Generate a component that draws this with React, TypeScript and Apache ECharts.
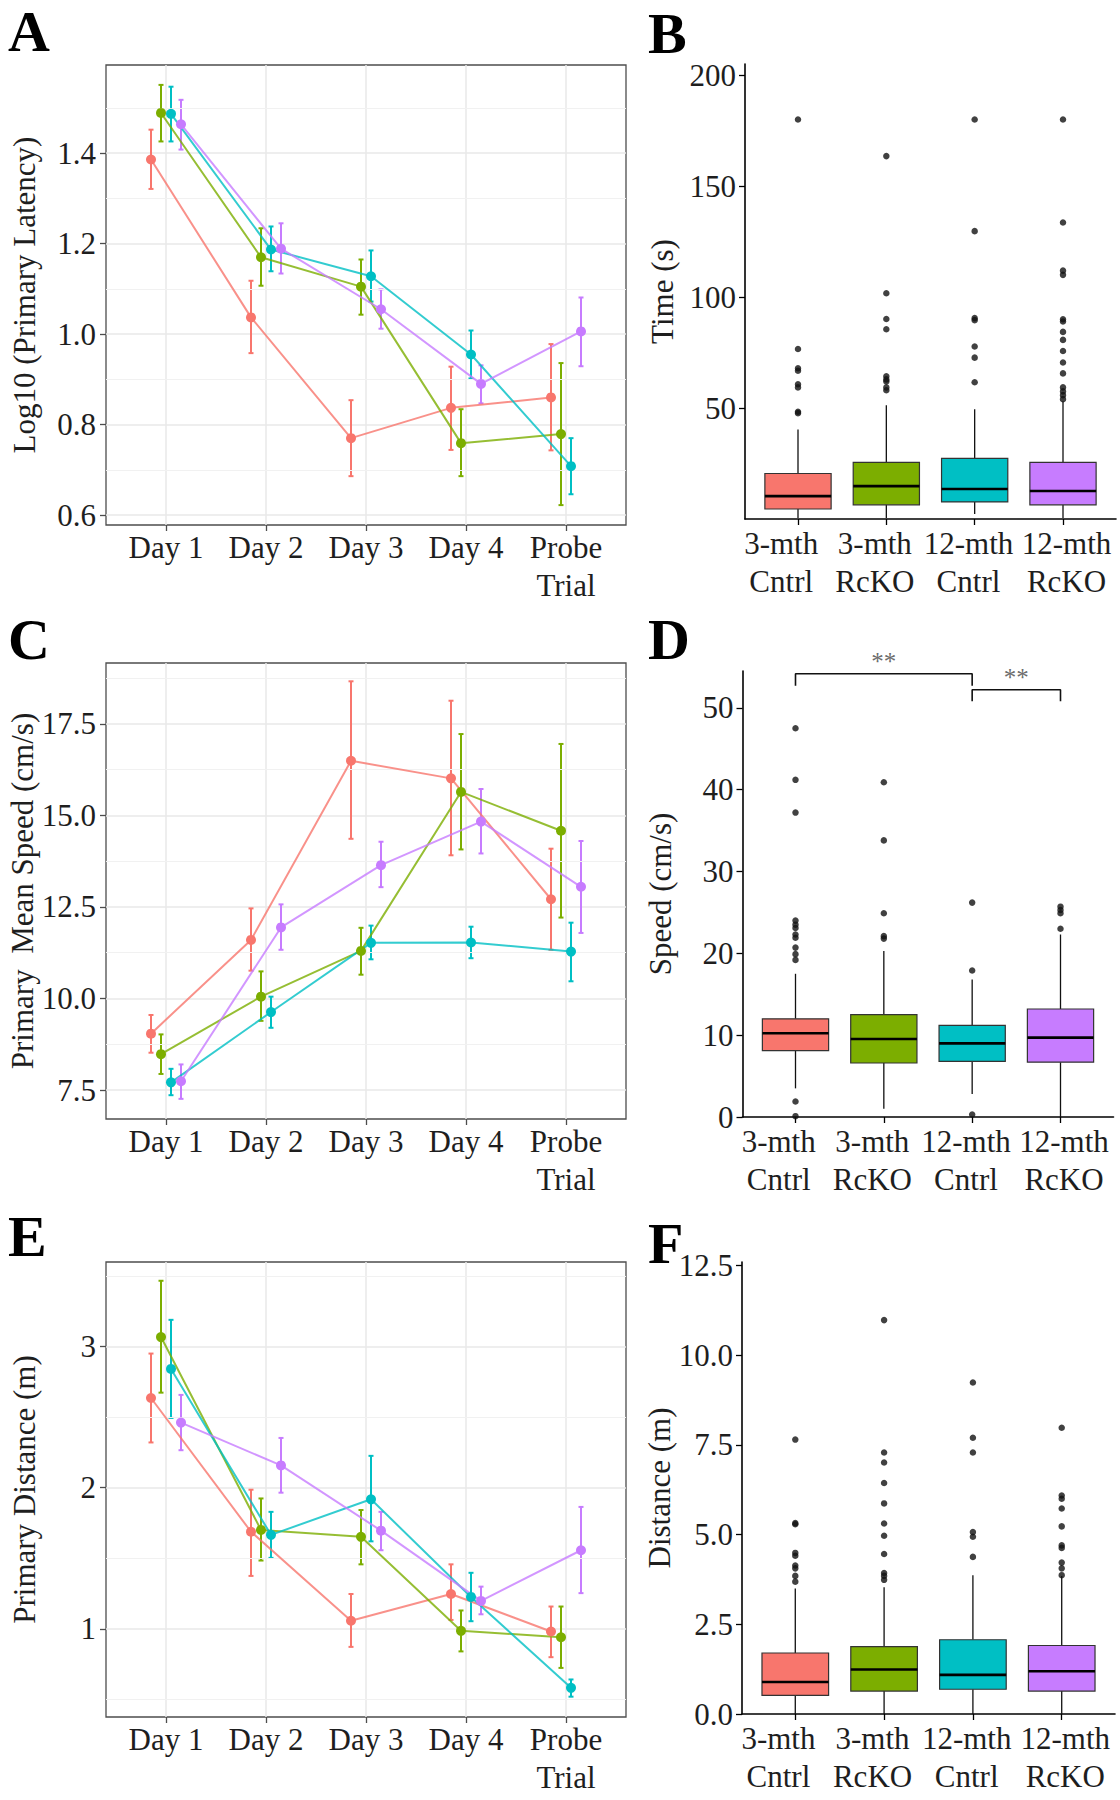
import React, { useEffect, useRef } from 'react';
import * as echarts from 'echarts';

const FONT = "'Liberation Serif', 'Times New Roman', serif";
const TEXT = '#1e1e1e';
const COLORS = ['#F8766D', '#7CAE00', '#00BFC4', '#C77CFF'];
const DODGE = [-0.15, -0.05, 0.05, 0.15];
// where the box-panel category labels sit on the x scale (they are spread a little wider than the ticks)
const BOX_LABEL_POS = [0.81, 1.87, 2.93, 4.04];

const dayLabels = ['Day 1', 'Day 2', 'Day 3', 'Day 4', 'Probe\nTrial'];
const boxLabels = ['3-mth\nCntrl', '3-mth\nRcKO', '12-mth\nCntrl', '12-mth\nRcKO'];

// Panel A: Log10 (Primary Latency), groups: 3-mth Cntrl, 3-mth RcKO, 12-mth Cntrl, 12-mth RcKO
const latencyMean = [
  [1.386, 1.037, 0.770, 0.837, 0.860],
  [1.489, 1.170, 1.105, 0.759, 0.779],
  [1.487, 1.187, 1.128, 0.955, 0.708],
  [1.464, 1.189, 1.055, 0.890, 1.006],
];
const latencyLow = [
  [1.321, 0.958, 0.686, 0.744, 0.743],
  [1.426, 1.107, 1.043, 0.686, 0.622],
  [1.426, 1.139, 1.072, 0.902, 0.646],
  [1.408, 1.134, 1.012, 0.847, 0.929],
];
const latencyHigh = [
  [1.452, 1.118, 0.854, 0.928, 0.978],
  [1.551, 1.234, 1.165, 0.834, 0.936],
  [1.547, 1.238, 1.185, 1.008, 0.770],
  [1.518, 1.245, 1.099, 0.931, 1.081],
];
const latencyTicks = [0.6, 0.8, 1.0, 1.2, 1.4];
const latencyMinor = [0.7, 0.9, 1.1, 1.3, 1.5];

// Panel C: Primary Mean Speed (cm/s)
const speedMean = [
  [9.04, 11.60, 16.49, 16.01, 12.71],
  [8.48, 10.05, 11.30, 15.64, 14.58],
  [7.71, 9.63, 11.52, 11.53, 11.28],
  [7.74, 11.94, 13.64, 14.83, 13.05],
];
const speedLow = [
  [8.52, 10.76, 14.36, 13.91, 11.33],
  [7.94, 9.39, 10.65, 14.07, 12.21],
  [7.36, 9.20, 11.07, 11.10, 10.47],
  [7.26, 11.33, 13.04, 13.96, 11.79],
];
const speedHigh = [
  [9.55, 12.46, 18.66, 18.13, 14.09],
  [9.02, 10.74, 11.93, 17.22, 16.95],
  [8.08, 10.05, 11.99, 11.96, 12.07],
  [8.20, 12.57, 14.28, 15.72, 14.30],
];
const speedTicks = [7.5, 10, 12.5, 15, 17.5];
const speedMinor = [8.75, 11.25, 13.75, 16.25, 18.75];

// Panel E: Primary Distance (m)
const distMean = [
  [2.636, 1.688, 1.057, 1.247, 0.981],
  [3.068, 1.701, 1.652, 0.986, 0.940],
  [2.842, 1.666, 1.918, 1.226, 0.582],
  [2.462, 2.158, 1.696, 1.198, 1.557],
];
const distLow = [
  [2.321, 1.375, 0.872, 1.063, 0.799],
  [2.674, 1.484, 1.457, 0.840, 0.723],
  [2.495, 1.503, 1.620, 1.054, 0.519],
  [2.266, 1.965, 1.557, 1.103, 1.253],
];
const distHigh = [
  [2.951, 1.986, 1.247, 1.457, 1.158],
  [3.467, 1.924, 1.842, 1.130, 1.158],
  [3.190, 1.829, 2.226, 1.397, 0.641],
  [2.658, 2.353, 1.829, 1.299, 1.864],
];
const distTicks = [1, 2, 3];
const distMinor = [0.5, 1.5, 2.5, 3.5];

// Panel B: Time (s) boxplots [min, Q1, median, Q3, max]
const timeBox = [
  [0.5, 4.5, 10.3, 20.5, 40.3],
  [0.5, 6.4, 14.8, 25.5, 51.3],
  [2.3, 7.7, 13.5, 27.3, 49.5],
  [0.5, 6.4, 12.6, 25.5, 53.1],
];
const timeOutliers = [
  [47.7, 48.3, 59.3, 60.7, 66.8, 67.9, 76.6, 180],
  [58, 59.3, 62, 62.9, 64.3, 85.5, 90.1, 101.7, 163.5],
  [61.6, 72.7, 77.7, 89.6, 90.5, 129.7, 180],
  [54, 55.8, 57.5, 59.3, 65.6, 70.5, 75.7, 80.7, 84.3, 89, 90, 110, 111.9, 133.6, 180],
];
const timeTicks = [50, 100, 150, 200];

// Panel D: Speed (cm/s) boxplots
const speedBox = [
  [3.5, 8.1, 10.24, 12.0, 17.5],
  [1.0, 6.6, 9.54, 12.5, 20.3],
  [2.8, 6.8, 9.0, 11.2, 16.8],
  [0.0, 6.7, 9.7, 13.2, 22.3],
];
const speedOutliers = [
  [47.5, 41.2, 37.2, 24.0, 23.5, 23.1, 22.3, 21.9, 20.7, 19.9, 19.2, 1.9, 0.1],
  [40.9, 33.8, 24.9, 22.1, 21.8],
  [26.2, 17.9, 0.3],
  [25.7, 25.3, 24.9, 23.0],
];
const speedBoxTicks = [0, 10, 20, 30, 40, 50];
const sigPairs = [[1, 3], [3, 4]];
const sigTop = [54.16, 52.2];
const sigFoot = [52.7, 50.8];
const sigText = ['**', '**'];

// Panel F: Distance (m) boxplots
const distBox = [
  [0.0, 0.52, 0.89, 1.70, 3.50],
  [0.0, 0.64, 1.24, 1.88, 3.53],
  [0.0, 0.69, 1.09, 2.07, 3.87],
  [0.0, 0.64, 1.19, 1.91, 3.85],
];
const distOutliers = [
  [7.65, 5.32, 5.29, 4.49, 4.41, 4.14, 4.06, 3.85, 3.69],
  [10.98, 7.29, 7.01, 6.44, 5.87, 5.31, 4.97, 4.46, 3.93, 3.85, 3.74],
  [9.24, 7.70, 7.29, 5.07, 4.94, 4.38],
  [7.98, 6.09, 6.0, 5.73, 5.23, 4.70, 4.63, 4.22, 4.06, 3.87],
];
const distBoxTicks = [0, 2.5, 5, 7.5, 10, 12.5];

const LINE_GRIDS = [
  { left: 106, top: 65, width: 520, height: 460 },
  { left: 106, top: 663, width: 520, height: 456 },
  { left: 106, top: 1262, width: 520, height: 455 },
];
const BOX_GRIDS = [
  { left: 745, top: 64, width: 371, height: 455 },
  { left: 742.5, top: 671, width: 371, height: 446 },
  { left: 742, top: 1262, width: 373, height: 452 },
];

const labelStyle = { fontFamily: FONT, fontSize: 31, color: TEXT };

function buildOption() {
  const grid: any[] = [];
  const xAxis: any[] = [];
  const yAxis: any[] = [];
  const series: any[] = [];

  const linePanel = (
    gi: number, mean: number[][], lo: number[][], hi: number[][],
    yMin: number, yMax: number, ticks: number[], minor: number[],
    fmt: (v: number) => string, title: string,
  ) => {
    const idx = grid.length;
    grid.push({ ...LINE_GRIDS[gi], show: true, borderColor: '#4d4d4d', borderWidth: 1.3, backgroundColor: '#ffffff', containLabel: false });
    const xVals = dayLabels.map((_, i) => i + 1);
    xAxis.push({
      gridIndex: idx, type: 'value', min: 0.4, max: 5.6,
      axisLine: { show: false, onZero: false },
      axisTick: { show: true, customValues: xVals, length: 6, lineStyle: { color: '#4d4d4d', width: 1.3 } },
      axisLabel: { ...labelStyle, customValues: xVals, margin: 3, lineHeight: 38, showMinLabel: true, showMaxLabel: true, formatter: (v: number) => dayLabels[Math.round(v) - 1] },
      splitLine: { show: true, lineStyle: { color: '#e8e8e8', width: 1.5 } },
    });
    yAxis.push({
      gridIndex: idx, type: 'value', min: yMin, max: yMax,
      axisLine: { show: false, onZero: false },
      axisTick: { show: true, customValues: ticks, length: 6, lineStyle: { color: '#4d4d4d', width: 1.3 } },
      axisLabel: { ...labelStyle, customValues: ticks, margin: 10, showMinLabel: true, showMaxLabel: true, formatter: fmt },
      splitLine: { show: true, lineStyle: { color: '#e8e8e8', width: 1.5 } },
      name: title, nameLocation: 'middle', nameGap: 66, nameRotate: 90,
      nameTextStyle: { fontFamily: FONT, fontSize: 31, color: TEXT },
    });
    series.push({
      type: 'line', xAxisIndex: idx, yAxisIndex: idx, data: [], silent: true, z: 1,
      markLine: {
        silent: true, symbol: 'none', label: { show: false },
        lineStyle: { color: '#f1f1f1', width: 1.2, type: 'solid' },
        data: minor.map((v) => ({ yAxis: v })),
      },
    });
    mean.forEach((row, g) => {
      series.push({
        type: 'custom', xAxisIndex: idx, yAxisIndex: idx, z: 4,
        data: row.map((_, d) => [d + 1 + DODGE[g], lo[g][d], hi[g][d]]),
        encode: { x: 0, y: [1, 2] },
        renderItem: (params: any, api: any) => {
          const x = api.value(0);
          const p1 = api.coord([x, api.value(1)]);
          const p2 = api.coord([x, api.value(2)]);
          const cap = 2.5;
          const st = { stroke: COLORS[g], lineWidth: 2 };
          return {
            type: 'group',
            children: [
              { type: 'line', shape: { x1: p1[0], y1: p1[1], x2: p2[0], y2: p2[1] }, style: st },
              { type: 'line', shape: { x1: p1[0] - cap, y1: p1[1], x2: p1[0] + cap, y2: p1[1] }, style: st },
              { type: 'line', shape: { x1: p2[0] - cap, y1: p2[1], x2: p2[0] + cap, y2: p2[1] }, style: st },
            ],
          };
        },
      });
      series.push({
        type: 'line', xAxisIndex: idx, yAxisIndex: idx, z: 5,
        data: row.map((v, d) => [d + 1 + DODGE[g], v]),
        symbol: 'circle', symbolSize: 10, showSymbol: true,
        itemStyle: { color: COLORS[g] },
        lineStyle: { color: COLORS[g], width: 2, opacity: 0.8 },
      });
    });
  };

  const boxPanel = (
    gi: number, box: number[][], outliers: number[][],
    yMin: number, yMax: number, ticks: number[], fmt: (v: number) => string, title: string,
  ) => {
    const idx = grid.length;
    grid.push({ ...BOX_GRIDS[gi], show: false, containLabel: false });
    const xVals = boxLabels.map((_, i) => i + 1);
    const labelFor = (v: number) => {
      let best = 0;
      BOX_LABEL_POS.forEach((p, i) => { if (Math.abs(p - v) < Math.abs(BOX_LABEL_POS[best] - v)) best = i; });
      return boxLabels[best];
    };
    xAxis.push({
      gridIndex: idx, type: 'value', min: 0.4, max: 4.6,
      axisLine: { show: true, onZero: false, lineStyle: { color: '#000', width: 1.6 } },
      axisTick: { show: true, customValues: xVals, length: 6, lineStyle: { color: '#000', width: 1.3 } },
      axisLabel: { ...labelStyle, customValues: BOX_LABEL_POS, margin: 5, lineHeight: 38, showMinLabel: true, showMaxLabel: true, hideOverlap: false, formatter: labelFor },
      splitLine: { show: false },
    });
    yAxis.push({
      gridIndex: idx, type: 'value', min: yMin, max: yMax,
      axisLine: { show: true, onZero: false, lineStyle: { color: '#000', width: 1.6 } },
      axisTick: { show: true, customValues: ticks, length: 6, lineStyle: { color: '#000', width: 1.3 } },
      axisLabel: { ...labelStyle, customValues: ticks, margin: 9, showMinLabel: true, showMaxLabel: true, formatter: fmt },
      splitLine: { show: false },
      name: title, nameLocation: 'middle', nameGap: 67, nameRotate: 90,
      nameTextStyle: { fontFamily: FONT, fontSize: 31, color: TEXT },
    });
    series.push({
      type: 'custom', xAxisIndex: idx, yAxisIndex: idx, z: 3,
      data: box.map((b, i) => [i + 1, ...b]),
      encode: { x: 0, y: [1, 2, 3, 4, 5] },
      renderItem: (params: any, api: any) => {
        const x = api.value(0);
        const w = api.size([1, 0])[0] * 0.75;
        const pMin = api.coord([x, api.value(1)]);
        const pQ1 = api.coord([x, api.value(2)]);
        const pMed = api.coord([x, api.value(3)]);
        const pQ3 = api.coord([x, api.value(4)]);
        const pMax = api.coord([x, api.value(5)]);
        const cx = pMed[0];
        const wk = { stroke: '#111', lineWidth: 1.3 };
        return {
          type: 'group',
          children: [
            { type: 'line', shape: { x1: cx, y1: pQ3[1], x2: cx, y2: pMax[1] }, style: wk },
            { type: 'line', shape: { x1: cx, y1: pQ1[1], x2: cx, y2: pMin[1] }, style: wk },
            { type: 'rect', shape: { x: cx - w / 2, y: pQ3[1], width: w, height: pQ1[1] - pQ3[1] }, style: { fill: COLORS[params.dataIndex], stroke: '#333', lineWidth: 1.2 } },
            { type: 'line', shape: { x1: cx - w / 2, y1: pMed[1], x2: cx + w / 2, y2: pMed[1] }, style: { stroke: '#000', lineWidth: 2.6 } },
          ],
        };
      },
    });
    const pts: number[][] = [];
    outliers.forEach((arr, i) => arr.forEach((v) => pts.push([i + 1, v])));
    series.push({
      type: 'scatter', xAxisIndex: idx, yAxisIndex: idx, z: 4, data: pts,
      symbol: 'circle', symbolSize: 6.5, itemStyle: { color: '#111' }, clip: false,
    });
    return idx;
  };

  linePanel(0, latencyMean, latencyLow, latencyHigh, 0.578, 1.595, latencyTicks, latencyMinor, (v) => v.toFixed(1), 'Log10 (Primary Latency)');
  boxPanel(0, timeBox, timeOutliers, 0, 205, timeTicks, (v) => String(v), 'Time (s)');
  linePanel(1, speedMean, speedLow, speedHigh, 6.71, 19.16, speedTicks, speedMinor, (v) => v.toFixed(1), 'Primary  Mean Speed (cm/s)');
  const dIdx = boxPanel(1, speedBox, speedOutliers, 0, 54.5, speedBoxTicks, (v) => String(v), 'Speed (cm/s)');
  linePanel(2, distMean, distLow, distHigh, 0.375, 3.6, distTicks, distMinor, (v) => String(v), 'Primary Distance (m)');
  boxPanel(2, distBox, distOutliers, 0, 12.6, distBoxTicks, (v) => v.toFixed(1), 'Distance (m)');

  sigPairs.forEach(([a, b], k) => {
    series.push({
      type: 'line', xAxisIndex: dIdx, yAxisIndex: dIdx, z: 6, clip: false, silent: true,
      symbol: 'none', lineStyle: { color: '#111', width: 1.6 },
      data: [[a, sigFoot[k]], [a, sigTop[k]], [b, sigTop[k]], [b, sigFoot[k]]],
    });
    series.push({
      type: 'scatter', xAxisIndex: dIdx, yAxisIndex: dIdx, z: 6, clip: false, silent: true,
      symbolSize: 0, data: [[(a + b) / 2, sigTop[k]]],
      label: { show: true, position: 'top', distance: 0, formatter: sigText[k], fontFamily: FONT, fontSize: 25, color: '#444' },
    });
  });

  const letter = (t: string, x: number, y: number) => ({
    type: 'text', left: x, top: y,
    style: { text: t, fontFamily: FONT, fontWeight: 'bold', fontSize: 58, fill: '#000' },
  });

  return {
    animation: false,
    backgroundColor: '#ffffff',
    grid, xAxis, yAxis, series,
    graphic: [
      letter('A', 8, 2), letter('B', 648, 4),
      letter('C', 8, 610), letter('D', 648, 610),
      letter('E', 8, 1207), letter('F', 648, 1214),
    ],
  };
}

export default function App() {
  const ref = useRef<HTMLDivElement>(null);
  useEffect(() => {
    if (!ref.current) return;
    const chart = echarts.init(ref.current, undefined, { renderer: 'svg' });
    chart.setOption(buildOption() as any);
    return () => chart.dispose();
  }, []);
  return <div ref={ref} style={{ position: 'absolute', left: 0, top: 0, width: 1120, height: 1800, background: '#fff' }} />;
}
